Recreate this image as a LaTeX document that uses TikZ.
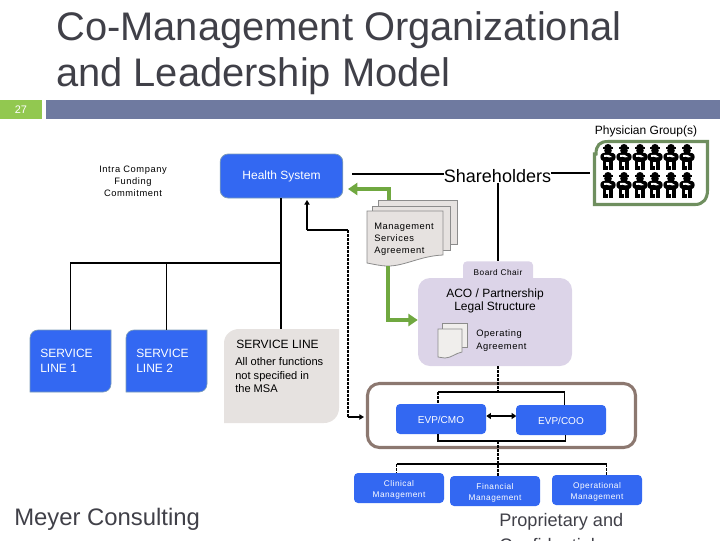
\documentclass[tikz,border=0pt]{standalone}
\usepackage{fontspec}
\setmainfont{Liberation Sans}
\newfontfamily\spc[LetterSpace=6]{Liberation Sans}
\usetikzlibrary{arrows.meta}
\definecolor{ink}{HTML}{404048}
\definecolor{barblue}{HTML}{6F7AA0}
\definecolor{bargreen}{HTML}{92C850}
\definecolor{boxblue}{HTML}{3368F2}
\definecolor{edgeblue}{HTML}{7C9CB8}
\definecolor{paper}{HTML}{E6E2E0}
\definecolor{lav}{HTML}{DCD4E8}
\definecolor{grn}{HTML}{70A840}
\definecolor{pgreen}{HTML}{6F8F5F}
\definecolor{brown}{HTML}{8C7870}
\definecolor{sheet}{HTML}{E6E2E0}
\definecolor{sheetb}{HTML}{8C8C8C}
\newcommand{\sz}[2]{\fontsize{#1}{#2}\selectfont}
\newcommand{\dn}{\rule{0pt}{7pt}}
\tikzset{
 x=0.75pt,y=-0.75pt,
 bx/.style={rectangle,rounded corners=3pt,fill=boxblue,text=white,inner sep=0pt,align=center},
 txt/.style={inner sep=0pt,align=center},
 ltxt/.style={inner sep=0pt,align=left},
 conn/.style={black,line width=.85pt},
 dash2/.style={black,line width=.8pt,dash pattern=on 2pt off 1pt},
 garrow/.style={grn,line width=2.4pt,-{Triangle[length=7pt,width=9pt]}},
 blk/.style={black,line width=1.5pt,-{Triangle[length=3.5pt,width=4pt]}},
 sh/.style={rectangle,draw=sheetb,fill=sheet,line width=.6pt,inner sep=0pt},
 person/.pic={
  \fill (-5,3) rectangle (5,4.6);
  \fill (0,3) ellipse (3.6 and 3);
  \fill (0,6.5) circle (3.8);
  \fill (-7.6,13) .. controls (-8,9) and (-4,8.5) .. (0,8.5) .. controls (4,8.5) and (8,9) .. (7.6,13) .. controls (7.6,16.5) and (5,17.5) .. (0,17.5) .. controls (-5,17.5) and (-7.6,16.5) .. (-7.6,13) -- cycle;
  \fill[white] (-4,11) .. controls (-1,9.8) and (2,11) .. (4,13) -- (1,13.4) .. controls (0,12.5) and (-2,12.5) .. (-4,13) -- cycle;
  \fill (-5,16) rectangle (5,25.5);
  \fill[white] (-2.2,18) rectangle (1,21.5);
  \fill[white] (-.2,21.5) rectangle (.7,25.5);
 }
}
\begin{document}
\begin{tikzpicture}
\useasboundingbox (0,0) rectangle (720,540);
\clip (0,0) rectangle (720,540);
% header
\node[ltxt,anchor=west,text=ink,font=\sz{29.9}{34.5}] (title) at (56,53) {Co-Management Organizational\\and Leadership Model};
\node[rectangle,fill=bargreen,minimum width=31.5pt,minimum height=14.25pt,inner sep=0pt,text=white,font=\sz{8.2}{9}] (num) at (21,109.5) {27};
\node[rectangle,fill=barblue,minimum width=505.5pt,minimum height=14.25pt,inner sep=0pt] (bar) at (383,109.5) {};
% top
\node[txt,font=\spc\sz{7}{9}] (intra) at (133,181) {Intra Company\\Funding\\Commitment};
\node[bx,draw=edgeblue,line width=.6pt,rounded corners=6pt,minimum width=92pt,minimum height=33pt,font=\sz{9}{11}] (hs) at (281.5,176) {Health System};
\node[txt,font=\sz{13.5}{15}] (sh) at (497.5,176) {Shareholders};
\node[txt,font=\sz{9}{10}] (pg) at (646,131) {Physician Group(s)};
\coordinate (shl) at (352,174);
\coordinate (shr) at (590,173);
\draw[conn] (shl) -- (shl -| sh.west);
\draw[conn] (sh.east |- shr) -- (shr);
% physician box
\draw[pgreen,line width=2.3pt] (596,154) .. controls (596,145) and (600,141.5) .. (608,141.5) -- (707.5,141.5) -- (707.5,190) .. controls (707.5,199) and (703,204.5) .. (695,204.5) -- (594.5,204.5) -- (594.5,154) -- cycle;
\foreach \y in {144,172}{\foreach \x in {608,624,640,655,671,687}{\pic at (\x,\y) {person};}}
% service lines
\fill[boxblue,draw=edgeblue,line width=.5pt] (30,338) .. controls (30,333) and (34,330) .. (38,330) -- (111,330) -- (111,384) .. controls (111,389) and (107,392) .. (103,392) -- (30,392) -- cycle;
\fill[boxblue,draw=edgeblue,line width=.5pt] (126,338) .. controls (126,333) and (130,330) .. (134,330) -- (207,330) -- (207,384) .. controls (207,389) and (203,392) .. (199,392) -- (126,392) -- cycle;
\fill[paper] (224,343) .. controls (224,335) and (231,329) .. (239,329) -- (339,329) -- (339,408) .. controls (339,417) and (332,423) .. (324,423) -- (224,423) -- cycle;
\node[inner sep=0pt,minimum width=60.75pt,minimum height=46.5pt] (s1) at (70.5,361) {};
\node[inner sep=0pt,minimum width=60.75pt,minimum height=46.5pt] (s2) at (166.5,361) {};
\node[inner sep=0pt,minimum width=86.25pt,minimum height=70.5pt] (s3) at (281.5,376) {};
\node[ltxt,text=white,anchor=west,font=\sz{9}{11.2}] (s1t) at (40,360.5) {SERVICE\\LINE 1};
\node[ltxt,text=white,anchor=west,font=\sz{9}{11.2}] (s2t) at (136,360.5) {SERVICE\\LINE 2};
\node[ltxt,anchor=west,font=\sz{9}{11}] (s3h) at (236,344) {SERVICE LINE};
\node[ltxt,anchor=west,font=\sz{8.3}{10.1}] (s3t) at (235,375.5) {All other functions\\not specified in\\the MSA};
\coordinate (tee) at (281,263);
\draw[conn] (hs.south -| tee) -- (tee);
\draw[conn] (tee) -- (s3.north -| tee);
\draw[conn] (s1.north) -- (s1.north |- tee) -- (tee);
\draw[conn] (s2.north) -- (s2.north |- tee);
% MSA docs
\node[sh,minimum width=59.25pt,minimum height=33pt] (d3) at (417.5,222) {};
\node[sh,minimum width=58.5pt,minimum height=33pt] (d2) at (411,228) {};
\draw[sheetb,fill=sheet,line width=.6pt] (367,211) -- (443,211) -- (443,255) .. controls (420,256) and (405,266) .. (388,266) .. controls (380,266) and (373,264) .. (367,263) -- cycle;
\node[ltxt,anchor=west,font=\spc\sz{7}{9}] (msa) at (374,239) {Management\\Services\\Agreement};
% ACO
\node[rectangle,fill=lav,rounded corners=3pt,minimum width=52.5pt,minimum height=16pt,inner sep=0pt] (bc) at (498,272) {};
\node[rectangle,fill=lav,rounded corners=9pt,minimum width=115.5pt,minimum height=66pt,inner sep=0pt] (aco) at (495,322) {};
\node[txt,font=\spc\sz{6.2}{7}] (bct) at (498,273) {Board Chair};
\node[txt,font=\sz{9}{10.2}] (acot) at (495,301) {ACO / Partnership\\Legal Structure};
\node[sh,fill=paper!60!white,minimum width=18.75pt,minimum height=18pt] (o2) at (454.5,335) {};
\draw[sheetb,fill=paper!60!white,line width=.6pt] (438,329) -- (462,329) -- (462,352) .. controls (456,353) and (451,358) .. (445,358) .. controls (442,358) and (440,357) .. (438,357) -- cycle;
\node[ltxt,anchor=west,font=\spc\sz{7}{9.75}] (oa) at (476,340.5) {Operating\\Agreement};
% green arrows
\coordinate (g1) at (389,200);
\coordinate (g1c) at (389,189);
\coordinate (g1t) at (348,189);
\draw[garrow] (g1) -- (g1c) -- (g1t);
\coordinate (g2) at (388,266);
\coordinate (g2c) at (388,320);
\draw[garrow] (g2) -- (g2c) -- (g2c -| aco.west);
% shareholders down
\draw[black,line width=1.3pt] (sh.south -| bct) -- (bc.north);
% brown box
\node[rectangle,draw=brown,line width=2.3pt,rounded corners=9pt,minimum width=201pt,minimum height=48pt,inner sep=0pt] (mg) at (501.5,415.5) {};
\node[bx,minimum width=67.5pt,minimum height=22.5pt,font=\sz{7.5}{9}] (cmo) at (441,419) {\rule{0pt}{7pt}EVP/CMO};
\node[bx,minimum width=67.5pt,minimum height=22.5pt,font=\sz{7.5}{9}] (coo) at (561,420) {\rule{0pt}{7pt}EVP/COO};
\node[bx,minimum width=67.5pt,minimum height=22.5pt,font=\spc\sz{6.2}{8.2}] (cm) at (399,488) {\dn Clinical\\Management};
\node[bx,minimum width=67.5pt,minimum height=22.5pt,font=\spc\sz{6.2}{8.2}] (fm) at (495,491) {\dn Financial\\Management};
\node[bx,minimum width=67.5pt,minimum height=22.5pt,font=\spc\sz{6.2}{8.2}] (om) at (597,490) {\dn Operational\\Management};
\draw[black,line width=1.5pt,{Triangle[length=3.5pt,width=4.5pt]}-{Triangle[length=3.5pt,width=4.5pt]}] (cmo.east) ++(0,-3) -- ++(30,0);
% upper org connectors
\coordinate (j1) at (498,392);
\draw[dash2] (aco.south -| j1) -- (j1);
\draw[conn,line width=.8pt] (438,392) -- (564.5,392);
\draw[dash2] (438,392) -- (438,404);
\draw[conn,line width=.8pt] (564.5,392) -- (564.5,405);
% lower connectors
\draw[conn,line width=.8pt] (438,434) -- (438,441) -- (565.5,441) -- (565.5,435);
\coordinate (j2) at (498,441);
\coordinate (j3) at (498,464);
\draw[dash2] (j2) -- (j3) -- (fm.north -| j3);
\draw[conn,line width=.8pt] (396.5,464) -- (606.5,464);
\draw[dash2] (396.5,464) -- (396.5,473);
\draw[dash2] (606.5,464) -- (606.5,475);
% dashed feedback
\coordinate (fb1) at (307,200);
\coordinate (fb2) at (307,230);
\coordinate (fb3) at (348,230);
\coordinate (fb4) at (348,417);
\coordinate (fb5) at (364,417);
\draw[blk] (fb2) -- (fb1);
\draw[conn] (fb2) -- (fb3);
\draw[dash2] (fb3) -- (fb4);
\draw[blk] (fb4) -- (fb5);
% footers
\node[ltxt,anchor=west,text=ink,font=\sz{17.9}{20}] (mc) at (14,519) {Meyer Consulting};
\node[ltxt,anchor=north west,text=ink,font=\sz{13.6}{19}] (pc) at (499,513) {Proprietary and\\Confidential};
\end{tikzpicture}
\end{document}
